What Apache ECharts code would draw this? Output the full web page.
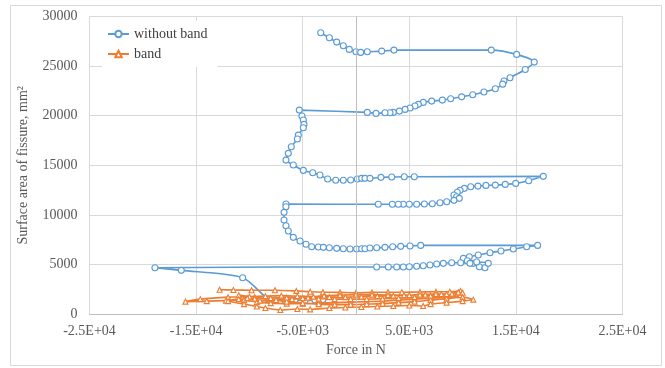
<!DOCTYPE html>
<html><head><meta charset="utf-8">
<script src="https://cdn.jsdelivr.net/npm/echarts@6/dist/echarts.min.js"></script>
<style>html,body{margin:0;padding:0;background:#fff}#c{width:665px;height:368px}</style>
</head><body><div id="c"></div>
<script>
const seriesNames = ["without band", "band"];
const xTickLabels = ["-2.5E+04", "-1.5E+04", "-5.0E+03", "5.0E+03", "1.5E+04", "2.5E+04"];
const xTickValues = [-25000, -15000, -5000, 5000, 15000, 25000];
const yTickLabels = ["0", "5000", "10000", "15000", "20000", "25000", "30000"];

const withoutBandForce = [-3310,-2500,-1810,-1190,-630,0,440,1060,2410,3560,12690,15070,16720,15880,14450,13880,13760,13070,12000,10950,9910,8880,8100,7100,6310,5850,5530,5070,4600,4070,3500,3190,2720,1880,1060,-5320,-5070,-4940,-4880,-4940,-5410,-5500,-6070,-6350,-6570,-5880,-4940,-4060,-3380,-2660,-1900,-1190,-500,120,530,840,1310,2340,3350,4530,5470,17570,16200,14980,14000,13070,12190,11440,10760,10160,9760,9500,9190,9440,9690,9190,8510,7880,7160,6410,5690,5000,4440,3970,3410,2090,-6570,-6570,-6750,-6750,-6570,-6350,-5880,-5250,-4690,-4160,-3530,-3060,-2500,-1810,-1190,-560,60,530,840,1310,1940,2720,3440,4190,5070,6070,17040,16010,14760,13600,12570,11470,10630,10070,10440,11000,11570,12100,12410,11320,10690,9820,8980,8190,7570,6940,6310,5690,5000,4440,3820,3030,1940,-18860,-16390,-10630,-8250,-7590,-6660,-5720,-4780,-3850,-3100];
const withoutBandArea = [28360,27850,27420,27050,26680,26440,26380,26440,26510,26610,26610,26180,25400,24660,23820,23490,23180,22710,22380,22110,21900,21700,21570,21470,21340,21140,20970,20770,20630,20460,20330,20290,20290,20230,20330,20560,19960,19560,19120,18780,18040,17640,16860,16200,15520,15020,14480,14240,14010,13610,13480,13480,13510,13610,13680,13680,13680,13780,13810,13840,13840,13880,13440,13170,13070,13000,12970,12900,12830,12670,12470,12270,12000,11830,11660,11460,11320,11220,11120,11090,11060,11060,11060,11060,11060,11060,11090,10820,10250,9480,8900,8370,7730,7360,7030,6780,6750,6720,6680,6620,6580,6550,6550,6580,6580,6650,6680,6720,6780,6820,6850,6920,6920,6780,6550,6350,6180,5950,5780,5610,5370,5110,4770,4670,5110,5240,5110,5170,5170,5110,5040,4940,4870,4810,4770,4740,4740,4740,4740,4670,4400,3660,1510,1410,1360,1410,1360,1410,1460];

const bandForce = [-12800,-11500,-9800,-7600,-5600,-4300,-3100,-1500,0,1500,3000,4300,6000,7500,8800,9800,
 9500,8000,6500,5000,3500,2000,500,-1000,-2500,-4000,-5500,-7000,-8500,-10000,-12000,-14600,-16000,
 -14000,-12200,-10500,-9300,-8000,-6500,-5000,-3500,-2000,-500,1000,2500,4000,5500,7000,8500,9800,10000,
 9000,7500,6000,4500,3000,1500,0,-1500,-3000,-4500,-6000,-7500,-9000,-10200,-11000,
 -9500,-8000,-6500,-5000,-3500,-2000,-500,1000,2500,4000,5500,7000,8500,10000,11000,
 10000,8500,7000,6300,5000,3500,2000,500,-1000,-2500,-4300,-5500,-7100,-8500,-9300,-10500,-12000,
 -11000,-9500,-8000,-6500,-5000,-3500,-2000,-500,1000,2500,4000,5500,7000,8500,9600];
const bandArea = [2450,2420,2400,2400,2330,2250,2200,2180,2150,2180,2200,2200,2220,2250,2250,2320,
 2100,2000,1950,1900,1850,1800,1750,1700,1700,1750,1800,1850,1800,1750,1700,1500,1250,
 1300,1350,1400,1200,1100,1050,1050,1100,1150,1200,1250,1300,1400,1500,1600,1750,1900,2150,
 2050,2000,1950,1900,1900,1950,1950,1900,1850,1650,1500,1400,1350,1600,1900,
 1700,1500,1250,1100,1000,950,950,1000,1050,1150,1250,1400,1550,1700,1450,
 1300,1150,1000,800,850,800,750,700,650,600,470,500,400,600,750,1000,1300,
 1500,1550,1600,1650,1600,1550,1500,1500,1500,1550,1600,1700,1850,2000,2200];

const blueData = withoutBandForce.map((f, i) => [f, withoutBandArea[i]]);
const orangeData = bandForce.map((f, i) => [f, bandArea[i]]);

const font = "'Liberation Serif', 'Times New Roman', serif";
const chart = echarts.init(document.getElementById('c'), null, {renderer: 'canvas'});
chart.setOption({
  animation: false,
  backgroundColor: '#fff',
  graphic: [{type: 'rect', shape: {x: 10.5, y: 5.5, width: 651, height: 360}, style: {fill: 'none', stroke: '#D9D9D9', lineWidth: 1}, z: -1}],
  grid: {left: 89.5, right: 42.5, top: 16.5, bottom: 54},
  legend: {
    left: 102, top: 21, orient: 'vertical', padding: [6, 10, 6, 5], itemGap: 6,
    itemWidth: 21, itemHeight: 8, backgroundColor: '#fff',
    textStyle: {fontFamily: font, fontSize: 14, color: '#404040'},
    data: seriesNames
  },
  xAxis: {
    type: 'value', min: -25000, max: 25000, interval: 10000,
    name: 'Force in N', nameLocation: 'middle', nameGap: 29,
    nameTextStyle: {fontFamily: font, fontSize: 14, color: '#595959'},
    axisLine: {onZero: false, lineStyle: {color: '#BFBFBF'}},
    axisTick: {show: false},
    axisLabel: {margin: 10, fontFamily: font, fontSize: 14, color: '#595959',
      formatter: v => { const i = xTickValues.indexOf(v); return i >= 0 ? xTickLabels[i] : ''; }},
    splitLine: {lineStyle: {color: '#D9D9D9'}}
  },
  yAxis: {
    type: 'value', min: 0, max: 30000, interval: 5000,
    name: 'Surface area of fissure, mm²', nameLocation: 'middle', nameGap: 59,
    nameTextStyle: {fontFamily: font, fontSize: 14, color: '#595959'},
    axisLine: {show: false}, axisTick: {show: false},
    axisLabel: {margin: 12, fontFamily: font, fontSize: 14, color: '#595959',
      formatter: v => yTickLabels[Math.round(v / 5000)] },
    splitLine: {lineStyle: {color: '#D9D9D9'}}
  },
  series: [
    {
      name: seriesNames[0], type: 'line', data: blueData, smooth: 0.25,
      symbol: 'circle', symbolSize: 6,
      itemStyle: {color: '#fff', borderColor: '#5B9BD5', borderWidth: 1.1},
      lineStyle: {color: '#5B9BD5', width: 1.6},
      color: '#5B9BD5',
      markLine: {silent: true, symbol: 'none', label: {show: false},
        lineStyle: {color: '#BFBFBF', type: 'solid', width: 1}, data: [{xAxis: 0}]},
      z: 3
    },
    {
      name: seriesNames[1], type: 'line', data: orangeData, smooth: 0.25,
      symbol: 'triangle', symbolSize: 5,
      itemStyle: {color: '#fff', borderColor: '#ED7D31', borderWidth: 1.1},
      lineStyle: {color: '#ED7D31', width: 1.6},
      color: '#ED7D31',
      z: 4
    }
  ]
});
</script>
</body></html>
